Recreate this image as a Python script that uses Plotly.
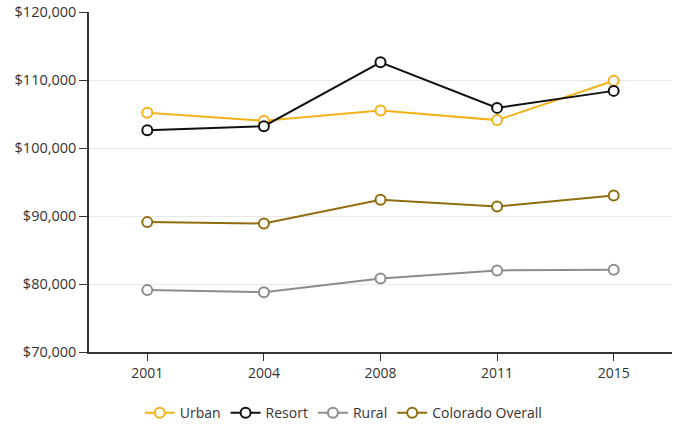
import plotly.graph_objects as go

# Median household income by region type
years = ["2001", "2004", "2008", "2011", "2015"]
urban = [105200, 104000, 105500, 104100, 109900]
resort = [102600, 103200, 112600, 105900, 108400]
rural = [79100, 78800, 80800, 82000, 82100]
colorado_overall = [89100, 88900, 92400, 91400, 93000]

series = [
    ("Urban", urban, "#F2B21B"),
    ("Resort", resort, "#111111"),
    ("Rural", rural, "#8C8C8C"),
    ("Colorado Overall", colorado_overall, "#8F6D0F"),
]

fig = go.Figure()
for name, values, color in series:
    fig.add_trace(go.Scatter(
        x=years, y=values, name=name, mode="lines+markers",
        line=dict(color=color, width=2),
        marker=dict(symbol="circle", size=10, color="white",
                    line=dict(color=color, width=2)),
    ))

font_family = "Open Sans, Noto Sans, sans-serif"
fig.update_layout(
    width=674, height=426,
    margin=dict(l=89, r=2, t=12, b=74, autoexpand=False),
    paper_bgcolor="white", plot_bgcolor="white",
    font=dict(family=font_family, size=14, color="#333333"),
    showlegend=True,
    legend=dict(orientation="h", xref="container", x=0.51, xanchor="center",
                y=-0.18, yanchor="middle", font=dict(size=14, color="#333333"),
                itemwidth=30),
    xaxis=dict(type="category", range=[-0.5, 4.5], showgrid=False,
               showline=True, linecolor="#333333", linewidth=1.5,
               ticks="outside", ticklen=7, tickcolor="#333333",
               tickfont=dict(size=14)),
    yaxis=dict(range=[70000, 120000], dtick=10000, tickformat="$,.0f",
               showgrid=True, gridcolor="#E8E8E8", gridwidth=1,
               showline=True, linecolor="#333333", linewidth=1.5,
               ticks="outside", ticklen=8, tickcolor="#333333",
               zeroline=False, tickfont=dict(size=14.5)),
)

fig.write_html("out.html")
